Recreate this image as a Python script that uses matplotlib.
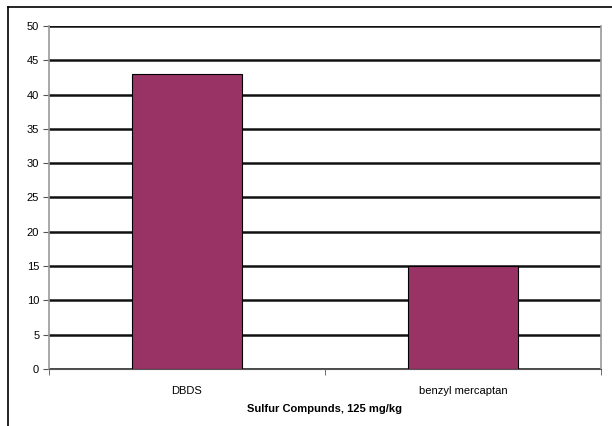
import matplotlib.pyplot as plt
from matplotlib.lines import Line2D
import numpy as np

plt.rcParams['font.family'] = ['Liberation Sans', 'DejaVu Sans']

compounds = ['DBDS', 'benzyl mercaptan']
values = [43, 15]

fig = plt.figure(figsize=(6.12, 4.26), dpi=100)
ax = fig.add_axes([0.080, 0.134, 0.902, 0.805])

x = np.arange(len(compounds))
ax.bar(x, values, width=0.4, color='#993366', edgecolor='black', linewidth=0.8, zorder=3)

ax.set_xlim(-0.5, 1.5)
ax.set_ylim(0, 50)
ax.set_yticks(range(0, 51, 5))
ax.yaxis.grid(True, color='#111111', linewidth=1.8, zorder=1)
ax.set_axisbelow(True)

# category labels centered, tick marks between categories
ax.set_xticks(x)
ax.set_xticklabels(compounds, fontsize=8)
ax.tick_params(axis='x', length=0, pad=12)
ax.set_xticks([-0.5, 0.5, 1.5], minor=True)
ax.tick_params(axis='x', which='minor', length=4, color='#555555')
ax.tick_params(axis='y', labelsize=8, length=4, color='#555555', pad=3)

for s in ['left', 'right']:
    ax.spines[s].set_color('#999999')
    ax.spines[s].set_linewidth(1.2)
ax.spines['bottom'].set_color('#555555')
ax.spines['top'].set_visible(False)

ax.set_xlabel('Sulfur Compunds, 125 mg/kg', fontsize=8, fontweight='bold', labelpad=6)

# outer frame
fig.add_artist(Line2D([0.013, 0.013], [0.0, 0.984], color='black', linewidth=1.2))
fig.add_artist(Line2D([0.013, 1.0], [0.984, 0.984], color='black', linewidth=1.2))

fig.savefig('out.png', dpi=100)
